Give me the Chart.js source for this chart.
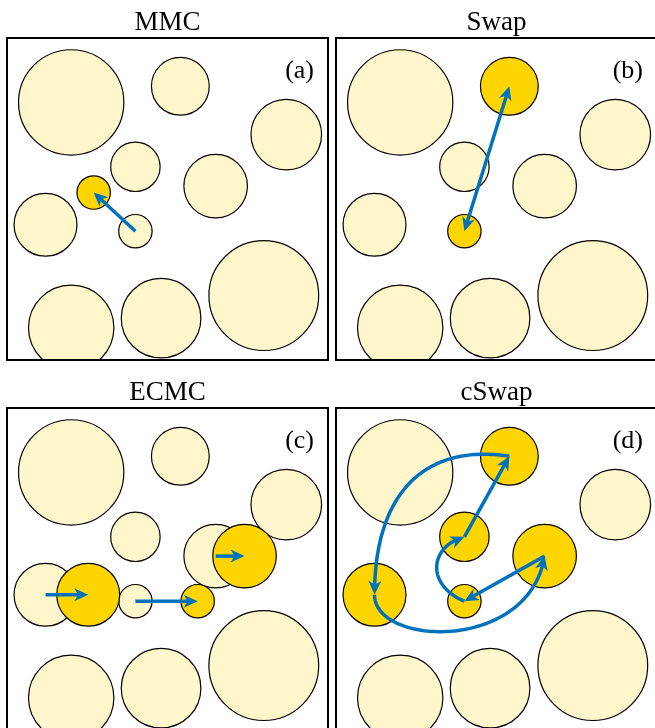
<!DOCTYPE html>
<html>
<head>
<meta charset="utf-8">
<script src="https://cdn.jsdelivr.net/npm/chart.js@4.4.1/dist/chart.umd.min.js"></script>
<style>
  html, body { margin: 0; padding: 0; background: #fff; }
  #wrap { position: relative; width: 655px; height: 728px; overflow: hidden; }
  #wrap canvas { position: absolute; }
</style>
</head>
<body>
<div id="wrap">
  <canvas id="mmc" width="336" height="368" style="left:0;top:0"></canvas>
  <canvas id="swap" width="336" height="368" style="left:329px;top:0"></canvas>
  <canvas id="ecmc" width="336" height="368" style="left:0;top:370px"></canvas>
  <canvas id="cswap" width="336" height="368" style="left:329px;top:370px"></canvas>
</div>
<script>
// disk configuration, box is 0..100 on both axes
const circleX = [20, 54, 87, 40, 65, 12, 40, 80, 48, 20];
const circleY = [80, 85, 70, 60, 54, 42, 40, 20, 13, 10];
const circleR = [16.4, 9.0, 11.0, 7.7, 9.9, 9.8, 5.2, 17.1, 12.4, 13.3];

// MMC: trial position of the tiny disk
const mmcX = [27];
const mmcY = [52];
const mmcR = [5.2];

// ECMC: displaced disks of the event chain
const ecmcX = [25.3, 59.4, 74];
const ecmcY = [42, 40, 54];
const ecmcR = [9.8, 5.2, 9.9];

// highlighted disks (indices into the configuration)
const swapGold = [1, 6];
const cswapGold = [1, 3, 4, 5, 6];

// moves: two points = straight, four points = cubic curve
const mmcMoves = [[[40, 40], [27, 52]]];
const swapMoves = [[[40, 40], [54, 85]]];
const ecmcMoves = [
  [[12, 42], [25.3, 42]],
  [[40, 40], [59.4, 40]],
  [[65, 54], [74, 54]]
];
const cswapMoves = [
  [[40, 40], [28, 45], [29, 57], [40, 60]],
  [[40, 60], [54, 85]],
  [[54, 85], [28, 89], [12, 74], [12, 42]],
  [[12, 42], [12, 26], [60, 24], [65, 54]],
  [[65, 54], [40, 40]]
];

const titles = ["MMC", "Swap", "ECMC", "cSwap"];
const tags = ["(a)", "(b)", "(c)", "(d)"];

const PALE = "#fff6cc";
const GOLD = "#ffd500";
const BLUE = "#0072bd";
const SERIF = "'Liberation Serif', 'DejaVu Serif', serif";
const HEAD = 14, HALF = 6.5, NOTCH = 10;

function disks(xs, ys, rs, keep) {
  return xs.map((x, i) => ({ x, y: ys[i], r: rs[i] })).filter((_, i) => !keep || keep(i));
}

function unitPx(chart) {
  const area = chart.chartArea;
  return area ? area.width / 100 : 0;
}

function cubicPoints(p, n) {
  const out = [];
  for (let i = 0; i <= n; i++) {
    const t = i / n, s = 1 - t;
    const a = s * s * s, b = 3 * s * s * t, c = 3 * s * t * t, d = t * t * t;
    out.push([
      a * p[0][0] + b * p[1][0] + c * p[2][0] + d * p[3][0],
      a * p[0][1] + b * p[1][1] + c * p[2][1] + d * p[3][1]
    ]);
  }
  return out;
}

// drop the last d pixels of a polyline
function cutEnd(pts, d) {
  const out = pts.slice();
  while (out.length > 1) {
    const a = out[out.length - 2], b = out[out.length - 1];
    const len = Math.hypot(b[0] - a[0], b[1] - a[1]);
    if (len > d) {
      const t = (len - d) / len;
      out[out.length - 1] = [a[0] + (b[0] - a[0]) * t, a[1] + (b[1] - a[1]) * t];
      return out;
    }
    d -= len;
    out.pop();
  }
  return out;
}

function arrowHead(ctx, pts) {
  const tip = pts[pts.length - 1];
  const back = cutEnd(pts, HEAD);
  const base = back[back.length - 1];
  let ux = tip[0] - base[0], uy = tip[1] - base[1];
  const len = Math.hypot(ux, uy) || 1;
  ux /= len; uy /= len;
  const nx = -uy, ny = ux;
  ctx.beginPath();
  ctx.moveTo(tip[0], tip[1]);
  ctx.lineTo(tip[0] - ux * HEAD + nx * HALF, tip[1] - uy * HEAD + ny * HALF);
  ctx.lineTo(tip[0] - ux * NOTCH, tip[1] - uy * NOTCH);
  ctx.lineTo(tip[0] - ux * HEAD - nx * HALF, tip[1] - uy * HEAD - ny * HALF);
  ctx.closePath();
  ctx.fill();
}

function decor(tag, moves, both) {
  return {
    id: "decor",
    afterDatasetsDraw(chart) {
      const { ctx, scales: { x, y } } = chart;
      ctx.save();
      ctx.strokeStyle = BLUE;
      ctx.fillStyle = BLUE;
      ctx.lineWidth = 3.5;
      ctx.lineJoin = "round";
      moves.forEach((m) => {
        const px = m.map((p) => [x.getPixelForValue(p[0]), y.getPixelForValue(p[1])]);
        const pts = px.length === 4 ? cubicPoints(px, 80) : px;
        let body = cutEnd(pts, NOTCH - 1);
        if (both) body = cutEnd(body.slice().reverse(), NOTCH - 1).reverse();
        ctx.beginPath();
        body.forEach((p, i) => (i ? ctx.lineTo(p[0], p[1]) : ctx.moveTo(p[0], p[1])));
        ctx.stroke();
        arrowHead(ctx, pts);
        if (both) arrowHead(ctx, pts.slice().reverse());
      });
      ctx.restore();
    },
    afterDraw(chart) {
      const { ctx, chartArea: a } = chart;
      ctx.save();
      ctx.strokeStyle = "#000";
      ctx.lineWidth = 2;
      ctx.strokeRect(a.left, a.top, a.width, a.height);
      ctx.fillStyle = "#000";
      ctx.font = "26px " + SERIF;
      ctx.textAlign = "right";
      ctx.textBaseline = "alphabetic";
      ctx.fillText(tag, a.right - 14, a.top + 40);
      ctx.restore();
    }
  };
}

function diskSet(data, color, order) {
  return {
    data,
    order,
    clip: 0,
    pointRadius: (c) => (c.raw ? c.raw.r * unitPx(c.chart) : 0),
    pointHoverRadius: (c) => (c.raw ? c.raw.r * unitPx(c.chart) : 0),
    pointBackgroundColor: color,
    pointBorderColor: "#000",
    pointBorderWidth: 1.2,
    pointHoverBorderWidth: 1.2,
    showLine: false
  };
}

function makePanel(id, n, pale, gold, moves, both) {
  new Chart(document.getElementById(id), {
    type: "scatter",
    data: { datasets: [diskSet(pale, PALE, 2), diskSet(gold, GOLD, 1)] },
    options: {
      responsive: false,
      animation: false,
      events: [],
      layout: { padding: { left: 7, right: 8, top: 0, bottom: 8 } },
      scales: {
        x: { type: "linear", min: 0, max: 100, display: false },
        y: { type: "linear", min: 0, max: 100, display: false }
      },
      plugins: {
        legend: { display: false },
        tooltip: { enabled: false },
        title: {
          display: true,
          text: titles[n],
          color: "#000",
          font: { family: SERIF, size: 27, weight: "normal", lineHeight: 1.0 },
          padding: { top: 9.5, bottom: 1.5 }
        }
      }
    },
    plugins: [decor(tags[n], moves, both)]
  });
}

makePanel("mmc", 0, disks(circleX, circleY, circleR), disks(mmcX, mmcY, mmcR), mmcMoves, false);
makePanel("swap", 1,
  disks(circleX, circleY, circleR, (i) => !swapGold.includes(i)),
  disks(circleX, circleY, circleR, (i) => swapGold.includes(i)),
  swapMoves, true);
makePanel("ecmc", 2, disks(circleX, circleY, circleR), disks(ecmcX, ecmcY, ecmcR), ecmcMoves, false);
makePanel("cswap", 3,
  disks(circleX, circleY, circleR, (i) => !cswapGold.includes(i)),
  disks(circleX, circleY, circleR, (i) => cswapGold.includes(i)),
  cswapMoves, false);
</script>
</body>
</html>
